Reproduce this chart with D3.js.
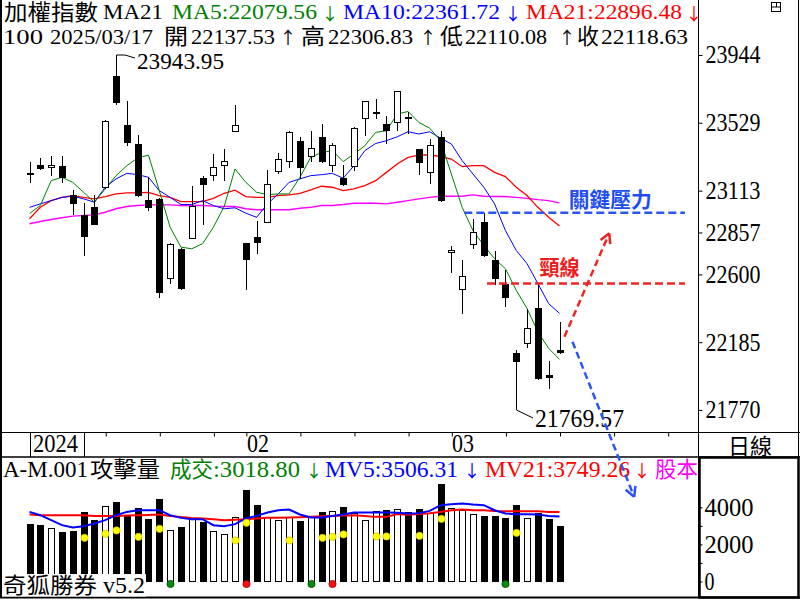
<!DOCTYPE html>
<html>
<head>
<meta charset="utf-8">
<script src="https://cdn.jsdelivr.net/npm/d3@7"></script>
<style>
  body { margin: 0; background: #fff; }
  svg { display: block; }
  text { font-family: "Liberation Serif", "Noto Sans CJK TC", serif; }
  text.arrow { font-family: "Noto Sans CJK TC", sans-serif; }
</style>
</head>
<body>
<svg id="chart" width="800" height="600"></svg>
<script>
// ---- candle data ----
const opens  = [23222, 23272, 23252, 23264, 23087, 22967, 23010, 23130, 23816, 23516,
                23400, 23058, 23065, 22572, 22753, 22818, 23189, 23203, 23264, 23474,
                22792, 22832, 22916, 23228, 23289, 23419, 23317, 23443, 23264, 23193,
                23256, 23551, 23586, 23521, 23527, 23564, 23370, 23222, 23443, 22733,
                22507, 22778, 22924, 22690, 22544, 22116, 22171, 22397, 21984, 22137.53];
const highs  = [23291, 23313, 23325, 23325, 23118, 23036, 23087, 23547, 23943.95, 23663,
                23455, 23199, 23066, 22790, 22764, 23144, 23205, 23338, 23368, 23639,
                22795, 22930, 23242, 23341, 23478, 23443, 23480, 23524, 23405, 23272,
                23504, 23663, 23674, 23571, 23725, 23592, 23370, 23429, 23480, 22772,
                22690, 22941, 22977, 22741, 22625, 22136, 22391, 22544, 22069, 22306.83];
const lows   = [23158, 23240, 23201, 23158, 22967, 22712, 22900, 23125, 23640, 23384,
                23075, 22987, 22458, 22544, 22507, 22815, 22904, 23170, 23170, 23470,
                22503, 22723, 22912, 23215, 23252, 23185, 23286, 23283, 23225, 23140,
                23235, 23449, 23551, 23399, 23480, 23460, 23209, 23154, 23045, 22608,
                22360, 22757, 22708, 22538, 22401, 21769.57, 22150, 21955, 21896, 22110.08];
const closes = [23216, 23244, 23270, 23191, 23030, 22828, 22904, 23541, 23647, 23402,
                23079, 23008, 22486, 22788, 22511, 23022, 23146, 23258, 23297, 23516,
                22690, 22792, 23154, 23307, 23474, 23252, 23374, 23286, 23392, 23146,
                23496, 23661, 23592, 23480, 23722, 23559, 23283, 23392, 23048, 22751,
                22588, 22859, 22712, 22570, 22456, 22065, 22269, 21957, 21964, 22118.63];

// moving averages on the price panel
const ma5  = [22973, 23022, 23174, 23195, 23164, 23103, 23042, 23124, 23205, 23266,
              23313, 23331, 23113, 22889, 22767, 22757, 22788, 22889, 23016, 23246,
              23164, 23103, 23089, 23093, 23093, 23195, 23317, 23347, 23358, 23291,
              23338, 23388, 23470, 23480, 23582, 23598, 23531, 23496, 23419, 23215,
              23011, 22869, 22778, 22696, 22635, 22503, 22391, 22248, 22147, 22079.56];
const ma10 = [23011, 23032, 23052, 23072, 23079, 23063, 23042, 23134, 23185, 23219,
              23211, 23195, 23113, 23072, 23028, 23028, 23052, 23022, 23002, 23008,
              22975, 22950, 23032, 23093, 23164, 23185, 23205, 23211, 23219, 23189,
              23266, 23358, 23402, 23419, 23443, 23474, 23460, 23474, 23435, 23399,
              23297, 23215, 23134, 23032, 22869, 22747, 22666, 22544, 22421, 22361.72];
const ma21 = [22941, 23011, 23052, 23072, 23083, 23072, 23063, 23077, 23093, 23099,
              23099, 23103, 23083, 23072, 23046, 23046, 23046, 23066, 23097, 23116,
              23077, 23072, 23072, 23083, 23087, 23097, 23118, 23140, 23134, 23113,
              23124, 23144, 23174, 23225, 23276, 23317, 23331, 23333, 23321, 23307,
              23260, 23266, 23266, 23225, 23199, 23134, 23083, 23011, 22950, 22896.48];
const maLong = [22910, 22924, 22936, 22947, 22957, 22961, 22965, 22981, 23002, 23016,
                23022, 23026, 23026, 23026, 23022, 23022, 23022, 23018, 23016, 23016,
                23002, 22996, 22996, 22996, 22996, 23005, 23011, 23022, 23022, 23028,
                23036, 23036, 23036, 23032, 23042, 23052, 23063, 23072, 23079, 23079,
                23079, 23087, 23079, 23077, 23077, 23072, 23066, 23058, 23052, 23038];

// volume panel
const volumes = [3091, 3037, 2860, 2661, 2715, 3720, 3306, 4059, 4274, 3537,
                 3967, 3360, 4435, 2769, 2930, 3360, 3199, 2715, 2554, 3451,
                 4919, 4113, 3484, 3306, 3484, 3252, 3484, 3720, 3790, 4005,
                 3666, 3306, 3806, 3844, 3935, 3752, 3935, 3683, 5242, 3967,
                 3881, 3613, 3521, 3521, 3414, 4113, 3398, 3666, 3360, 3018.80];
const mv5  = [3752, 3575, 3306, 3037, 2914, 2984, 3129, 3306, 3575, 3752,
              3844, 3844, 3844, 3575, 3430, 3360, 3360, 3037, 2984, 3091,
              3398, 3537, 3720, 3844, 3881, 3613, 3451, 3451, 3537, 3613,
              3720, 3720, 3720, 3720, 3700, 3666, 3680, 3806, 4113, 4166,
              4204, 4150, 4113, 3844, 3666, 3629, 3629, 3613, 3537, 3506.31];
const mv21 = [3613, 3575, 3575, 3575, 3575, 3575, 3537, 3537, 3537, 3559,
              3575, 3591, 3613, 3537, 3484, 3430, 3398, 3360, 3306, 3333,
              3360, 3398, 3430, 3441, 3451, 3468, 3484, 3511, 3537, 3559,
              3575, 3537, 3484, 3484, 3640, 3600, 3640, 3680, 3752, 3844,
              3881, 3844, 3844, 3806, 3790, 3790, 3790, 3790, 3752, 3749.26];
// "attack volume" markers
const attackIdx  = [5, 7, 8, 10, 12, 19, 20, 24, 27, 28, 29, 32, 33, 36, 38, 45];
const attackVals = [2355, 2570, 2752, 2408, 2838, 2215, 3161, 2215, 2355, 2408, 2537, 2430, 2430, 2462, 3376, 2623];
const greenSignalIdx = [13, 26, 44];
const redSignalIdx   = [20, 28];

// axis ticks and labels
const priceTicks = [23944, 23529, 23113, 22857, 22600, 22185, 21770];
const volTicks = [0, 1000, 2000, 3000, 4000];
const weekTicks = [7, 12, 17, 20, 25, 30, 35, 39, 44, 49, 54, 59];
const monthLabels = [{ i: 20, text: '02' }, { i: 39, text: '03' }];
const yearBox = { from: 0, to: 5, text: '2024' };

// drawn levels and forecast arrows (index, price)
const resistance = 22977;
const neckline = 22544;
const upArrow = [[49.46, 22218], [53.6, 22852]];
const downArrow = [[50.2, 22188], [55.9, 21238]];

const lastDate = '2025/03/17';

const GREEN = '#008000', BLUE = '#0000ff', RED = '#ff0000', MAGENTA = '#ff00ff';

const svg = d3.select('#chart');

const xs = d3.scaleLinear().domain([0, 49]).range([29.5, 559.5]);
const ys = d3.scaleLinear().domain([21769.57, 23943.95]).range([410, 55]);
const vy = d3.scaleLinear().domain([0, 4000]).range([581.5, 507.3]);

const px = i => Math.round(xs(i));

function label(g, s, x, y, size, w, color, anchor) {
    const t = g.append('text')
        .attr('x', x).attr('y', y)
        .attr('font-size', size)
        .attr('fill', color || '#000')
        .attr('text-anchor', anchor || 'start')
        .text(s);
    if (w) t.attr('textLength', w).attr('lengthAdjust', 'spacingAndGlyphs');
    return t;
}

// thin up/down arrows used in the headers
function arrowGlyph(g, s, x, y, color) {
    return label(g, s, x, y + 0.5, 17, null, color, 'middle').attr('class', 'arrow');
}

// ---- price panel ----
const price = svg.append('g');

const candles = d3.range(opens.length).map(i => ({
    i, o: opens[i], h: highs[i], l: lows[i], c: closes[i], up: closes[i] > opens[i]
}));

const maLine = d3.line().x((d, i) => xs(i)).y(d => ys(d));
[[maLong, MAGENTA, 1.4], [ma21, RED, 1.3], [ma10, BLUE, 1], [ma5, GREEN, 1]].forEach(([arr, col, w]) => {
    price.append('path').datum(arr)
        .attr('fill', 'none').attr('stroke', col).attr('stroke-width', w)
        .attr('d', maLine);
});

price.selectAll('line.wick').data(candles).join('line')
    .attr('class', 'wick')
    .attr('x1', d => px(d.i) + 0.5).attr('x2', d => px(d.i) + 0.5)
    .attr('y1', d => Math.round(ys(d.h))).attr('y2', d => Math.round(ys(d.l)))
    .attr('stroke', '#000').attr('stroke-width', 1);

price.selectAll('rect.body').data(candles).join('rect')
    .attr('class', 'body')
    .each(function (d) {
        const top = Math.round(ys(Math.max(d.o, d.c)));
        const bot = Math.round(ys(Math.min(d.o, d.c)));
        const h = Math.max(1, bot - top);
        const r = d3.select(this);
        if (d.up && h > 2) {
            r.attr('x', px(d.i) - 2.5).attr('y', top + 0.5).attr('width', 6).attr('height', h - 1)
             .attr('fill', '#fff').attr('stroke', '#000').attr('stroke-width', 1);
        } else {
            r.attr('x', px(d.i) - 3).attr('y', top).attr('width', 7).attr('height', Math.max(2, h))
             .attr('fill', '#000');
        }
    });

// high / low call-outs
const hiI = d3.maxIndex(highs), loI = d3.minIndex(lows);
price.append('polyline')
    .attr('points', [[px(hiI) + 0.5, ys(highs[hiI])], [px(hiI) + 9, ys(highs[hiI])], [px(hiI) + 19, ys(highs[hiI]) + 3]].join(' '))
    .attr('fill', 'none').attr('stroke', '#000');
label(price, highs[hiI].toFixed(2), px(hiI) + 21, ys(highs[hiI]) + 13.5, 24, 87);
price.append('polyline')
    .attr('points', [[px(loI) + 0.5, ys(lows[loI])], [px(loI) + 17, ys(lows[loI]) + 8]].join(' '))
    .attr('fill', 'none').attr('stroke', '#000');
label(price, lows[loI].toFixed(2), px(loI) + 19, ys(lows[loI]) + 17, 25, 89);

// drawn levels
const ann = svg.append('g');
ann.append('line')
    .attr('x1', xs(40.2)).attr('x2', xs(60.6))
    .attr('y1', ys(resistance)).attr('y2', ys(resistance))
    .attr('stroke', '#2a56f0').attr('stroke-width', 2.5).attr('stroke-dasharray', '8,4');
label(ann, '關鍵壓力', xs(49.85), ys(resistance) - 6, 21, 83, '#1e4ef2').attr('font-weight', 'bold');
ann.append('line')
    .attr('x1', xs(42.3)).attr('x2', xs(60.6))
    .attr('y1', ys(neckline)).attr('y2', ys(neckline))
    .attr('stroke', '#ee2424').attr('stroke-width', 2.5).attr('stroke-dasharray', '8,4');
label(ann, '頸線', xs(47.15), ys(neckline) - 9, 21, 40, '#ee1c1c').attr('font-weight', 'bold');

// ---- frame, date strip ----
const frame = svg.append('g').attr('stroke', '#000').attr('fill', 'none');
frame.append('line').attr('x1', 1).attr('x2', 1).attr('y1', 0).attr('y2', 598).attr('stroke-width', 2);
frame.append('line').attr('x1', 698.5).attr('x2', 698.5).attr('y1', 0).attr('y2', 598);
frame.append('line').attr('x1', 798.5).attr('x2', 798.5).attr('y1', 0).attr('y2', 457);
frame.append('line').attr('x1', 0).attr('x2', 800).attr('y1', 432.5).attr('y2', 432.5);
frame.append('line').attr('x1', 0).attr('x2', 800).attr('y1', 457).attr('y2', 457).attr('stroke-width', 1.5);
frame.append('line').attr('x1', 0).attr('x2', 800).attr('y1', 597.5).attr('y2', 597.5).attr('stroke-width', 2);
frame.append('rect').attr('x', 699.5).attr('y', 457.5).attr('width', 99).attr('height', 140).attr('stroke-width', 2.5);
// window icon
frame.append('rect').attr('x', 771.5).attr('y', 2.5).attr('width', 9).attr('height', 9);
frame.append('line').attr('x1', 771.5).attr('x2', 780.5).attr('y1', 7).attr('y2', 7);
frame.append('line').attr('x1', 776.5).attr('x2', 776.5).attr('y1', 2.5).attr('y2', 7);

const dateAxis = svg.append('g')
    .attr('transform', 'translate(0.5,432.5)')
    .call(d3.axisBottom(xs).tickValues(weekTicks).tickSize(4).tickFormat(''));
dateAxis.select('.domain').remove();
dateAxis.selectAll('line').attr('stroke', '#000');

[yearBox.from, yearBox.to].forEach(i => {
    frame.append('line').attr('x1', px(i) + 0.5).attr('x2', px(i) + 0.5).attr('y1', 432.5).attr('y2', 457);
});
label(svg, yearBox.text, px(yearBox.from) + 3, 452, 25, 45);
monthLabels.forEach(m => label(svg, m.text, px(m.i) + 1, 452, 25, 22));
label(svg, '日線', 728, 454, 22, 44);

// ---- price axis ----
const pAxis = svg.append('g')
    .attr('transform', 'translate(698.5,0)')
    .call(d3.axisRight(ys).tickValues(priceTicks).tickSize(4).tickPadding(3).tickFormat(d3.format('d')));
pAxis.select('.domain').remove();
pAxis.selectAll('line').attr('stroke', '#000');
pAxis.selectAll('text')
    .attr('font-size', 25).attr('fill', '#000').attr('font-family', 'Liberation Serif')
    .attr('textLength', 55).attr('lengthAdjust', 'spacingAndGlyphs');

// ---- volume panel ----
const vol = svg.append('g');
const vLine = d3.line().x((d, i) => xs(i)).y(d => vy(d));
vol.selectAll('rect.vbar').data(candles).join('rect')
    .attr('class', 'vbar')
    .each(function (d) {
        const top = Math.round(vy(volumes[d.i]));
        const bot = Math.round(vy(0));
        const r = d3.select(this);
        if (d.up) {
            r.attr('x', px(d.i) - 2.5).attr('y', top + 0.5).attr('width', 6).attr('height', bot - top - 1)
             .attr('fill', '#fff').attr('stroke', '#000');
        } else {
            r.attr('x', px(d.i) - 3).attr('y', top).attr('width', 7).attr('height', bot - top).attr('fill', '#000');
        }
    });
vol.append('path').datum(mv21).attr('fill', 'none').attr('stroke', RED).attr('stroke-width', 2).attr('d', vLine);
vol.append('path').datum(mv5).attr('fill', 'none').attr('stroke', BLUE).attr('stroke-width', 2).attr('d', vLine);

vol.selectAll('circle.atk').data(attackIdx).join('circle')
    .attr('class', 'atk')
    .attr('cx', i => px(i) + 0.5).attr('cy', (i, k) => vy(attackVals[k]))
    .attr('r', 3.6).attr('fill', '#ffff00').attr('stroke', '#d4c800').attr('stroke-width', 0.8);
vol.selectAll('circle.gsig').data(greenSignalIdx).join('circle')
    .attr('class', 'gsig')
    .attr('cx', i => px(i) + 0.5).attr('cy', vy(0) + 2.5)
    .attr('r', 3.6).attr('fill', '#0a8a0a').attr('stroke', '#004400').attr('stroke-width', 0.8);
vol.selectAll('circle.rsig').data(redSignalIdx).join('circle')
    .attr('class', 'rsig')
    .attr('cx', i => px(i) + 0.5).attr('cy', vy(0) + 2.5)
    .attr('r', 3.6).attr('fill', '#ff1010').attr('stroke', '#880000').attr('stroke-width', 0.8);

const vAxis = svg.append('g')
    .attr('transform', 'translate(699.5,0)')
    .call(d3.axisRight(vy).tickValues(volTicks).tickSize(3).tickPadding(2)
        .tickFormat(d => d % 2000 === 0 ? d : ''));
vAxis.select('.domain').remove();
vAxis.selectAll('line').attr('stroke', '#000');
vAxis.selectAll('text')
    .attr('font-size', 25).attr('fill', '#000').attr('font-family', 'Liberation Serif')
    .each(function (d) {
        if (d % 2000 === 0) d3.select(this).attr('textLength', d === 0 ? 10 : 49).attr('lengthAdjust', 'spacingAndGlyphs');
    });

// ---- header texts ----
const last = closes.length - 1;
const hd = svg.append('g');
label(hd, '加權指數', 4, 20, 22, 94);
label(hd, 'MA21', 103, 19, 20, 60);
label(hd, 'MA5:' + ma5[last].toFixed(2), 172, 19, 20, 145, GREEN);
arrowGlyph(hd, '↓', 330, 19, GREEN);
label(hd, 'MA10:' + ma10[last].toFixed(2), 343, 19, 20, 157, BLUE);
arrowGlyph(hd, '↓', 513, 19, BLUE);
label(hd, 'MA21:' + ma21[last].toFixed(2), 526, 19, 20, 156, RED);
arrowGlyph(hd, '↓', 694, 19, RED);

label(hd, '100', 3, 43.5, 22, 40);
label(hd, lastDate, 50, 43.5, 22, 103);
label(hd, '開', 164, 44, 22, 24);
label(hd, opens[last].toFixed(2), 191, 43.5, 22, 84);
arrowGlyph(hd, '↑', 288, 43.5, '#000');
label(hd, '高', 301, 44, 22, 24);
label(hd, highs[last].toFixed(2), 328, 43.5, 22, 85);
arrowGlyph(hd, '↑', 428, 43.5, '#000');
label(hd, '低', 440, 44, 22, 23);
label(hd, lows[last].toFixed(2), 465, 43.5, 22, 82);
arrowGlyph(hd, '↑', 567, 43.5, '#000');
label(hd, '收', 577, 44, 22, 22);
label(hd, closes[last].toFixed(2), 601, 43.5, 22, 87);

label(hd, 'A-M.001', 3, 476.5, 23, 85);
label(hd, '攻擊量', 90, 477, 22, 70);
label(hd, '成交', 170, 477, 22, 43, GREEN);
label(hd, ':' + volumes[last].toFixed(2), 213, 476.5, 23, 87, GREEN);
arrowGlyph(hd, '↓', 314, 476.5, GREEN);
label(hd, 'MV5:' + mv5[last].toFixed(2), 325, 476.5, 23, 133, BLUE);
arrowGlyph(hd, '↓', 472, 476.5, BLUE);
label(hd, 'MV21:' + mv21[last].toFixed(2), 485, 476.5, 23, 145, RED);
arrowGlyph(hd, '↓', 642, 476.5, RED);
label(hd, '股本', 655, 477, 22, 43, MAGENTA);

hd.append('rect').attr('x', 2).attr('y', 574).attr('width', 144).attr('height', 22.5).attr('fill', '#fff');
label(hd, '奇狐勝券', 3, 593, 22, 94);
label(hd, 'v5.2', 103, 592.5, 23, 42);

// ---- forecast arrows ----
function dashedArrow(pts, col) {
    const [a, b] = pts.map(([i, p]) => [xs(i), ys(p)]);
    ann.append('line')
        .attr('x1', a[0]).attr('y1', a[1]).attr('x2', b[0]).attr('y2', b[1])
        .attr('stroke', col).attr('stroke-width', 2.5).attr('stroke-dasharray', '7,4');
    const ang = Math.atan2(b[1] - a[1], b[0] - a[0]);
    [-0.5, 0.5].forEach(s => {
        ann.append('line')
            .attr('x1', b[0]).attr('y1', b[1])
            .attr('x2', b[0] - 11 * Math.cos(ang + s)).attr('y2', b[1] - 11 * Math.sin(ang + s))
            .attr('stroke', col).attr('stroke-width', 2.5);
    });
}
ann.raise();
dashedArrow(upArrow, '#ee2424');
dashedArrow(downArrow, '#2a56f0');
</script>
</body>
</html>
